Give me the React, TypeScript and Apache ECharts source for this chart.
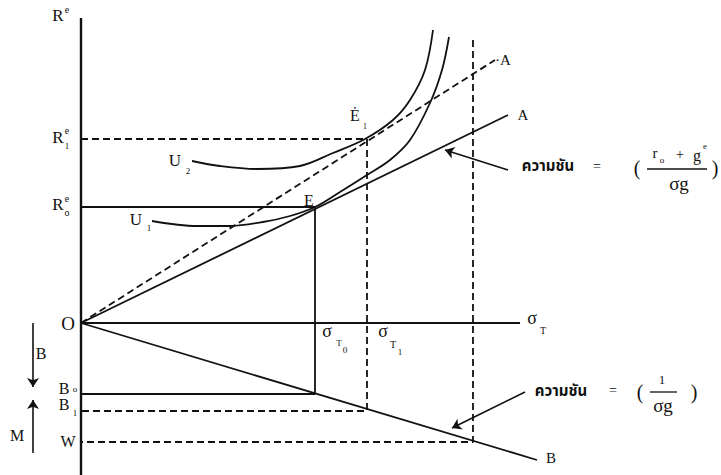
import React, { useEffect, useRef } from "react";
import * as echarts from "echarts";

// Diagram data (units: σ to the right, return up, origin O at 0,0)
const AXIS_V = [[0, 305], [0, -152]];
const AXIS_SIGMA = [[0, 0], [439, 0]];
const LINE_OA = [[0, 0], [427, 208]];
const LINE_OA_DASH = [[0, 0], [414, 263]];
const LINE_OB = [[0, 0], [456, -137]];
const GUIDE_E = [[0, 116], [234, 116], [234, -71], [0, -71]];
const GUIDE_E1 = [[0, 184], [286, 184], [286, -88], [0, -88]];
const GUIDE_W = [[392, 283], [392, -119], [0, -119]];
const CURVE_U1 = [
  [71, 102], [116, 97], [149, 97], [182, 101], [209, 107], [234, 116],
  [259, 131], [286, 148], [309, 163], [329, 183], [349, 220], [361, 253], [368, 286],
];
const CURVE_U2 = [
  [111, 162], [139, 157], [176, 154], [219, 157], [252, 170], [284, 184],
  [312, 203], [329, 223], [344, 253], [352, 293],
];
const ARROWS = [
  [[-48, 0], [-48, -64]],
  [[-48, -130], [-48, -77]],
  [[427, 153], [364, 173]],
  [[444, -69], [371, -105]],
];

const SERIF = "Liberation Serif, DejaVu Serif, serif";
const THAI = "Noto Sans Thai, Noto Serif Thai, Loma, Garuda, Norasi, Kinnari, sans-serif";
const INK = "#111";

type Lbl = { t: string; x: number; y: number; s: number; f?: string; w?: string };
const LABELS: Lbl[] = [
  { t: "R", x: 58, y: 15, s: 17 }, { t: "e", x: 67, y: 9, s: 10 },
  { t: "R", x: 58, y: 137, s: 17 }, { t: "e", x: 67, y: 130, s: 10 }, { t: "1", x: 67, y: 146, s: 9 },
  { t: "R", x: 58, y: 204, s: 17 }, { t: "e", x: 67, y: 198, s: 10 }, { t: "o", x: 67, y: 212, s: 10 },
  { t: "O", x: 68, y: 323, s: 19 },
  { t: "B", x: 41, y: 353, s: 16 },
  { t: "M", x: 17, y: 435, s: 16 },
  { t: "B", x: 64, y: 388, s: 16 }, { t: "o", x: 75, y: 389, s: 9 },
  { t: "B", x: 64, y: 404, s: 16 }, { t: "1", x: 75, y: 413, s: 9 },
  { t: "W", x: 68, y: 441, s: 16 },
  { t: "σ", x: 327, y: 331, s: 18 }, { t: "T", x: 339, y: 343, s: 9 }, { t: "0", x: 345, y: 350, s: 9 },
  { t: "σ", x: 383, y: 331, s: 18 }, { t: "T", x: 393, y: 344, s: 10 }, { t: "1", x: 400, y: 352, s: 9 },
  { t: "σ", x: 532, y: 318, s: 18 }, { t: "T", x: 543, y: 330, s: 10 },
  { t: "E", x: 309, y: 200, s: 16 },
  { t: "Ė", x: 355, y: 115, s: 16 }, { t: "1", x: 365, y: 126, s: 8 },
  { t: "U", x: 175, y: 160, s: 17 }, { t: "2", x: 188, y: 171, s: 9 },
  { t: "U", x: 136, y: 219, s: 17 }, { t: "1", x: 149, y: 228, s: 9 },
  { t: "·A", x: 503, y: 60, s: 15 },
  { t: "A", x: 523, y: 115, s: 15 },
  { t: "B", x: 551, y: 458, s: 15 },
  { t: "ความชัน", x: 548, y: 166, s: 15, f: THAI, w: "bold" },
  { t: "=", x: 597, y: 166, s: 14 },
  { t: "(", x: 637, y: 168, s: 20 },
  { t: "r", x: 655, y: 153, s: 15 }, { t: "o", x: 662, y: 160, s: 9 },
  { t: "+", x: 680, y: 154, s: 14 },
  { t: "g", x: 697, y: 155, s: 16 }, { t: "e", x: 705, y: 146, s: 9 },
  { t: "σg", x: 679, y: 183, s: 19 },
  { t: ")", x: 715, y: 168, s: 20 },
  { t: "ความชัน", x: 561, y: 391, s: 15, f: THAI, w: "bold" },
  { t: "=", x: 613, y: 390, s: 14 },
  { t: "(", x: 640, y: 392, s: 20 },
  { t: "1", x: 662, y: 379, s: 13 },
  { t: "σg", x: 663, y: 405, s: 19 },
  { t: ")", x: 694, y: 392, s: 20 },
];
const BARS = [
  [647, 169, 707, 169],
  [650, 392, 677, 392],
];

function lineSeries(data: number[][], dashed = false, smooth: number | boolean = false, width = 1.8) {
  return {
    type: "line",
    data,
    showSymbol: false,
    symbol: "none",
    smooth,
    silent: true,
    lineStyle: { color: INK, width, type: dashed ? [7, 4] : "solid" },
  };
}

export default function App() {
  const ref = useRef<HTMLDivElement>(null);
  useEffect(() => {
    if (!ref.current) return;
    document.body.style.margin = "0";
    const chart = echarts.init(ref.current, undefined, { renderer: "svg" });
    const graphic: any[] = [];
    LABELS.forEach((l) => {
      graphic.push({
        type: "text",
        x: l.x,
        y: l.y,
        silent: true,
        style: {
          text: l.t,
          fontSize: l.s,
          fontFamily: l.f || SERIF,
          fontWeight: l.w || "normal",
          fill: INK,
          align: "center",
          verticalAlign: "middle",
        },
      });
    });
    BARS.forEach((b) => {
      graphic.push({
        type: "line",
        silent: true,
        shape: { x1: b[0], y1: b[1], x2: b[2], y2: b[3] },
        style: { stroke: INK, lineWidth: 1.3 },
      });
    });
    chart.setOption({
      animation: false,
      backgroundColor: "#fff",
      grid: { left: 0, right: 0, top: 0, bottom: 0, containLabel: false },
      xAxis: { type: "value", min: -81, max: 640, show: false },
      yAxis: { type: "value", min: -152, max: 323, show: false },
      tooltip: { show: false },
      series: [
        lineSeries(AXIS_V, false, false, 2.4),
        lineSeries(AXIS_SIGMA, false, false, 2),
        lineSeries(LINE_OA),
        lineSeries(LINE_OA_DASH, true),
        lineSeries(LINE_OB),
        lineSeries(GUIDE_E),
        lineSeries(GUIDE_E1, true),
        lineSeries(GUIDE_W, true),
        lineSeries(CURVE_U1, false, 0.35),
        lineSeries(CURVE_U2, false, 0.35),
        {
          type: "lines",
          coordinateSystem: "cartesian2d",
          silent: true,
          symbol: ["none", "arrow"],
          symbolSize: 9,
          lineStyle: { color: INK, width: 1.6, opacity: 1 },
          data: ARROWS.map((c) => ({ coords: c })),
        },
      ],
      graphic,
    });
    return () => chart.dispose();
  }, []);
  return <div ref={ref} style={{ width: 721, height: 475, background: "#fff" }} />;
}
